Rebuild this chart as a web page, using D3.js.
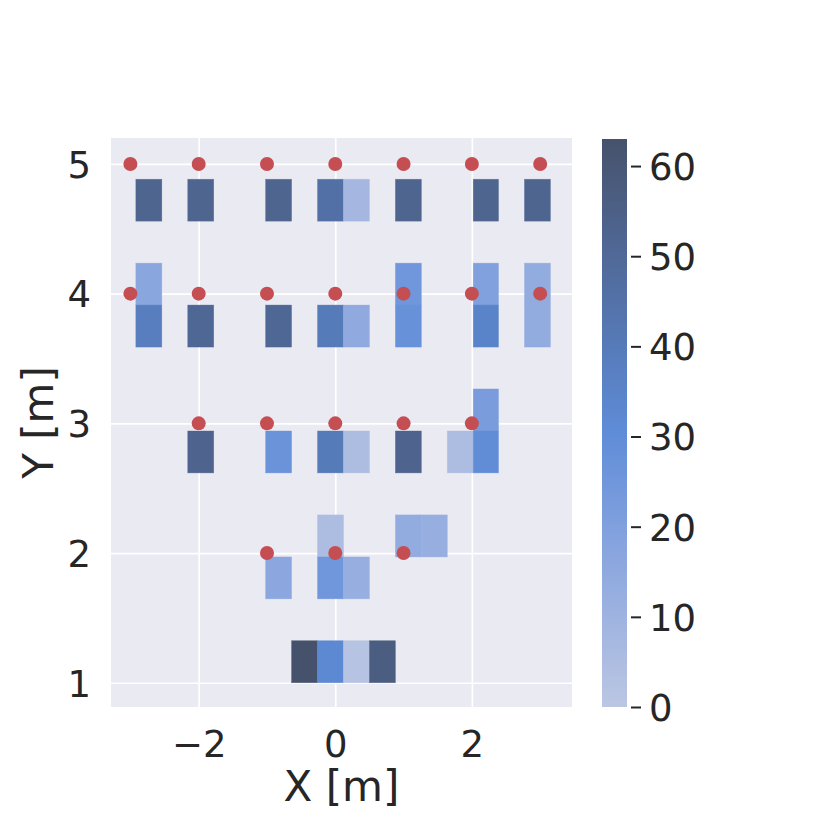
<!DOCTYPE html>
<html>
<head>
<meta charset="utf-8">
<script src="https://cdn.jsdelivr.net/npm/d3@7"></script>
<style>
  html, body { margin: 0; padding: 0; background: #ffffff; }
  svg { display: block; }
  text { font-family: "DejaVu Sans", sans-serif; fill: #262626; }
</style>
</head>
<body>
<div id="chart"></div>
<script>
// ---------------- data ----------------
const xBinEdges = [-2.92, -2.54, -2.16, -1.78, -1.40, -1.02, -0.64, -0.26, 0.12, 0.50, 0.88, 1.26, 1.64, 2.02, 2.39, 2.77, 3.15];
const yBinEdges = [1.0, 1.324, 1.647, 1.97, 2.294, 2.618, 2.941, 3.265, 3.588, 3.912, 4.235, 4.559, 4.882];

// occupied 2D histogram cells: x-bin index, y-bin index, count
const cellXBin  = [0, 2, 5, 7, 8, 10, 13, 15,   0, 10, 13, 15,   0, 2, 5, 7, 8, 10, 13, 15,   13,   2, 5, 7, 8, 10, 12, 13,   7, 10, 11,   5, 7, 8,   6, 7, 8, 9];
const cellYBin  = [11,11,11,11,11,11, 11, 11,   9,  9,  9,  9,   8, 8, 8, 8, 8,  8,  8,  8,    6,   5, 5, 5, 5,  5,  5,  5,   3,  3,  3,   2, 2, 2,   0, 0, 0, 0];
const cellCount = [52,52,52,46, 8,52, 52, 52,  17, 25, 20, 14,  38,51,51,40,15, 28, 35, 14,   22,  53,27,40, 5, 53,  5, 30,   5, 14, 13,  16,25,13,  63,32, 2,57];

// reference points
const pointX = [-3, -2, -1, 0, 1, 2, 3,  -3, -2, -1, 0, 1, 2, 3,  -2, -1, 0, 1, 2,  -1, 0, 1];
const pointY = [ 5,  5,  5, 5, 5, 5, 5,   4,  4,  4, 4, 4, 4, 4,   3,  3, 3, 3, 3,   2, 2, 2];

const xTicks = [-2, 0, 2];
const yTicks = [1, 2, 3, 4, 5];
const cbarTicks = [0, 10, 20, 30, 40, 50, 60];
const countMax = 63;
const xLabel = "X [m]";
const yLabel = "Y [m]";

// ---------------- HUSL colormap (seaborn style) ----------------
const M = [[3.2406,-1.5372,-0.4986],[-0.9689,1.8758,0.0415],[0.0557,-0.2040,1.0570]];
const MINV = [[0.4124,0.3576,0.1805],[0.2126,0.7152,0.0722],[0.0193,0.1192,0.9505]];
const refY = 1.0, refU = 0.19784, refV = 0.46834, labE = 0.008856, labK = 903.3;
function maxChroma(L, H) {
  const hr = H / 360 * 2 * Math.PI, sinH = Math.sin(hr), cosH = Math.cos(hr);
  const sub1 = Math.pow(L + 16, 3) / 1560896;
  const sub2 = sub1 > labE ? sub1 : L / labK;
  let result = Infinity;
  for (const [m1, m2, m3] of M) {
    const top = (0.99915 * m1 + 1.05122 * m2 + 1.14460 * m3) * sub2;
    const rb = 0.86330 * m3 - 0.17266 * m2;
    const lb = 0.12949 * m3 - 0.38848 * m1;
    const bottom = (rb * sinH + lb * cosH) * sub2;
    for (const t of [0, 1]) {
      const C = L * (top - 1.05122 * t) / (bottom + 0.17266 * sinH * t);
      if (C > 0 && C < result) result = C;
    }
  }
  return result;
}
function toLinear(c) { return c > 0.04045 ? Math.pow((c + 0.055) / 1.055, 2.4) : c / 12.92; }
function fromLinear(c) { return c <= 0.0031308 ? 12.92 * c : 1.055 * Math.pow(c, 1 / 2.4) - 0.055; }
function fwd(t) { return t > labE ? Math.pow(t, 1 / 3) : 7.787 * t + 16 / 116; }
function finv(t) { return Math.pow(t, 3) > labE ? Math.pow(t, 3) : (116 * t - 16) / labK; }
function rgbToHusl(r, g, b) {
  const lin = [toLinear(r), toLinear(g), toLinear(b)];
  const [X, Y, Z] = MINV.map(row => row[0] * lin[0] + row[1] * lin[1] + row[2] * lin[2]);
  const d = X + 15 * Y + 3 * Z;
  const vu = 4 * X / d, vv = 9 * Y / d;
  const L = 116 * fwd(Y / refY) - 16;
  const U = 13 * L * (vu - refU), V = 13 * L * (vv - refV);
  const C = Math.sqrt(U * U + V * V);
  let H = Math.atan2(V, U) * 180 / Math.PI; if (H < 0) H += 360;
  const S = C / maxChroma(L, H) * 100;
  return [H, S, L];
}
function huslToRgb(H, S, L) {
  const C = maxChroma(L, H) / 100 * S;
  const hr = H / 360 * 2 * Math.PI;
  const U = Math.cos(hr) * C, V = Math.sin(hr) * C;
  const Y = finv((L + 16) / 116) * refY;
  const vu = U / (13 * L) + refU, vv = V / (13 * L) + refV;
  const X = 0 - (9 * Y * vu) / ((vu - 4) * vv - vu * vv);
  const Z = (9 * Y - 15 * vv * Y - vv * X) / (3 * vv);
  return M.map(row => Math.min(1, Math.max(0, fromLinear(row[0] * X + row[1] * Y + row[2] * Z))));
}
const base = d3.rgb("#4c72b0");
const [bh, bs] = rgbToHusl(base.r / 255, base.g / 255, base.b / 255);
const N = 256, NX = Math.floor(1.15 * 256);
const cmapColors = [];
for (let i = 0; i < N; i++) {
  const xx = -1 + 2 * i / (NX - 1);
  const L = 35 + 45 * i / (N - 1);
  const rgb = huslToRgb(bh, bs * Math.cos(xx), L);
  cmapColors.push(d3.rgb(rgb[0] * 255, rgb[1] * 255, rgb[2] * 255).formatHex());
}
cmapColors.reverse();
function cmap(v) {
  const idx = Math.max(0, Math.min(N - 1, Math.floor(v / countMax * N)));
  return cmapColors[idx];
}

// ---------------- layout ----------------
const W = 830, H = 830;
const plot = { left: 111, right: 572, top: 138, bottom: 707 };
const cbar = { left: 602, right: 627, top: 139, bottom: 707 };

const svg = d3.select("#chart").append("svg").attr("width", W).attr("height", H);

const x = d3.scaleLinear().domain([-3.284, 3.466]).range([plot.left, plot.right]);
const y = d3.scaleLinear().domain([0.813, 5.2]).range([plot.bottom, plot.top]);

// background
svg.append("rect")
  .attr("x", plot.left).attr("y", plot.top)
  .attr("width", plot.right - plot.left).attr("height", plot.bottom - plot.top)
  .attr("fill", "#eaeaf2");

// grid
const xAxisG = svg.append("g").attr("transform", `translate(0,${plot.bottom})`)
  .call(d3.axisBottom(x).tickValues(xTicks).tickSize(-(plot.bottom - plot.top)).tickPadding(14)
    .tickFormat(d => d < 0 ? "\u2212" + Math.abs(d) : String(d)));
const yAxisG = svg.append("g").attr("transform", `translate(${plot.left},0)`)
  .call(d3.axisLeft(y).tickValues(yTicks).tickSize(-(plot.right - plot.left)).tickPadding(20)
    .tickFormat(d => String(d)));
[xAxisG, yAxisG].forEach(g => {
  g.select(".domain").remove();
  g.selectAll(".tick line").attr("stroke", "#ffffff").attr("stroke-width", 1.7);
  g.selectAll(".tick text").attr("fill", "#262626").style("font-size", "37px")
    .style("font-family", "'DejaVu Sans', sans-serif");
});
xAxisG.selectAll(".tick text").attr("dy", null).attr("y", 50);
yAxisG.selectAll(".tick text").attr("dy", "0.36em");

// cells
const cellIdx = d3.range(cellCount.length);
svg.append("g").selectAll("rect").data(cellIdx).join("rect")
  .attr("x", i => x(xBinEdges[cellXBin[i]]))
  .attr("width", i => x(xBinEdges[cellXBin[i] + 1]) - x(xBinEdges[cellXBin[i]]))
  .attr("y", i => y(yBinEdges[cellYBin[i] + 1]))
  .attr("height", i => y(yBinEdges[cellYBin[i]]) - y(yBinEdges[cellYBin[i] + 1]))
  .attr("fill", i => cmap(cellCount[i]))
  .attr("stroke", i => cmap(cellCount[i]))
  .attr("stroke-opacity", 0.6)
  .attr("stroke-width", 0.6);

// points
svg.append("g").selectAll("circle").data(d3.range(pointX.length)).join("circle")
  .attr("cx", i => x(pointX[i]))
  .attr("cy", i => y(pointY[i]))
  .attr("r", 7)
  .attr("fill", "#c44e52");

// axis labels
svg.append("text")
  .attr("x", (plot.left + plot.right) / 2).attr("y", 801)
  .attr("text-anchor", "middle").style("font-size", "42px")
  .text(xLabel);
svg.append("text")
  .attr("transform", `translate(53,${(plot.top + plot.bottom) / 2}) rotate(-90)`)
  .attr("text-anchor", "middle").style("font-size", "42px")
  .text(yLabel);

// colorbar
const cy = d3.scaleLinear().domain([0, countMax]).range([cbar.bottom, cbar.top]);
const defs = svg.append("defs");
const grad = defs.append("linearGradient").attr("id", "cbgrad")
  .attr("x1", 0).attr("y1", 1).attr("x2", 0).attr("y2", 0);
cmapColors.forEach((c, i) => {
  grad.append("stop").attr("offset", i / (N - 1)).attr("stop-color", c);
});
svg.append("rect")
  .attr("x", cbar.left).attr("y", cbar.top)
  .attr("width", cbar.right - cbar.left).attr("height", cbar.bottom - cbar.top)
  .attr("fill", "url(#cbgrad)");
const cAxis = svg.append("g").attr("transform", `translate(${cbar.right + 4},0)`)
  .call(d3.axisRight(cy).tickValues(cbarTicks).tickSize(10).tickPadding(8).tickFormat(d => String(d)));
cAxis.select(".domain").remove();
cAxis.selectAll(".tick line").attr("stroke", "#262626").attr("stroke-width", 2);
cAxis.selectAll(".tick text").attr("fill", "#262626").style("font-size", "37px")
  .style("font-family", "'DejaVu Sans', sans-serif").attr("dy", "0.36em");
</script>
</body>
</html>
